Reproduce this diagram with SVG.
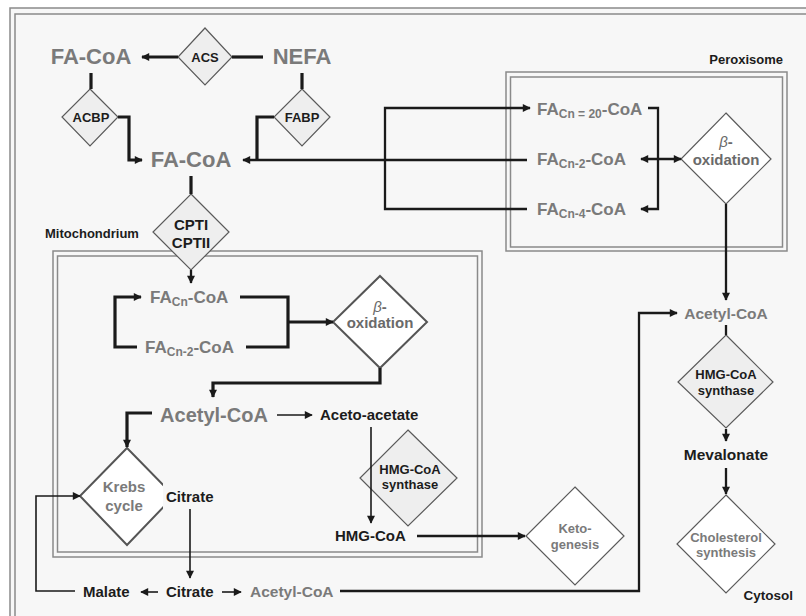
<svg xmlns="http://www.w3.org/2000/svg" width="806" height="616" viewBox="0 0 806 616">
<defs>
<style>
.t{font-family:"Liberation Sans",Arial,sans-serif;font-weight:bold;}
.gray{fill:#7a7a7a;}
.blk{fill:#1c1c1c;}
.big{font-size:22px;}
.fa{font-size:17px;}
.sub{font-size:12px;}
.mid{font-size:15px;}
.sm{font-size:13px;}
.c{text-anchor:middle;}
.enz{fill:#eeeeee;stroke:#5a5a5a;stroke-width:1.2;}
.proc{fill:#ffffff;stroke:#5a5a5a;stroke-width:1.2;}
.procb{fill:#ffffff;stroke:#555;stroke-width:2;}
.frame{fill:none;stroke:#8a8a8a;stroke-width:1.5;}
.k3{fill:none;stroke:#1a1a1a;stroke-width:3.2;}
.k2{fill:none;stroke:#1a1a1a;stroke-width:2.3;}
.k1{fill:none;stroke:#1a1a1a;stroke-width:1.6;}
</style>
<marker id="ah" viewBox="0 0 10 10" refX="9" refY="5" markerWidth="9" markerHeight="8" markerUnits="userSpaceOnUse" orient="auto-start-reverse">
<path d="M0,0 L10,5 L0,10 z" fill="#1a1a1a"/>
</marker>
</defs>
<rect x="0" y="0" width="806" height="616" fill="#ffffff"/>
<rect x="10" y="8" width="810" height="620" fill="#f7f7f7" stroke="#8a8a8a" stroke-width="1.5"/>
<rect x="15" y="14" width="800" height="610" class="frame"/>

<g id="mitochondrion-box">
<rect x="53" y="251" width="429" height="306" class="frame"/>
<rect x="57.5" y="256" width="420" height="296" class="frame"/>
<text class="t sm blk" x="45" y="238" fill="#333">Mitochondrium</text>
</g>
<g id="peroxisome-box">
<rect x="506" y="72" width="281" height="179" class="frame"/>
<rect x="510.5" y="77" width="272" height="170" class="frame"/>
<text class="t sm blk" x="783" y="64" text-anchor="end">Peroxisome</text>
</g>
<g id="cytosol-label"><text class="t sm blk" x="793" y="600" text-anchor="end" style="font-size:13.5px">Cytosol</text></g>

<g id="fa-coa-top"><text class="t big gray c" x="91" y="64">FA-CoA</text></g>
<g id="acs"><polygon class="enz" points="205,28 232,57 205,85 178,57"/><text class="t sm blk c" x="205" y="62">ACS</text></g>
<g id="nefa"><text class="t big gray c" x="302" y="64">NEFA</text></g>
<g id="acbp"><polygon class="enz" points="90,89 118,117 90,146 62,117"/><text class="t sm blk c" x="91" y="122">ACBP</text></g>
<g id="fabp"><polygon class="enz" points="302,89 330,117 302,146 274,117"/><text class="t sm blk c" x="302" y="122">FABP</text></g>
<g id="fa-coa-mid"><text class="t big gray c" x="191" y="167">FA-CoA</text></g>
<g id="cpt"><polygon class="enz" points="191,194 229,232 191,270 153,232"/><text class="t blk c" style="font-size:15px" x="191" y="230">CPTI</text><text class="t blk c" style="font-size:15px" x="191" y="248">CPTII</text></g>

<g id="px-fa20"><text class="t fa gray" x="537" y="115">FA<tspan class="sub" dy="3">Cn = 20</tspan><tspan dy="-3">-CoA</tspan></text></g>
<g id="px-fa2"><text class="t fa gray" x="537" y="165">FA<tspan class="sub" dy="3">Cn-2</tspan><tspan dy="-3">-CoA</tspan></text></g>
<g id="px-fa4"><text class="t fa gray" x="537" y="215">FA<tspan class="sub" dy="3">Cn-4</tspan><tspan dy="-3">-CoA</tspan></text></g>
<g id="px-box"><polygon class="proc" points="726,113 771,159 726,204 681,159"/><text class="t mid c" fill="#6a6a6a" x="726" y="147"><tspan font-style="italic" font-weight="normal">β</tspan>-</text><text class="t mid c" fill="#6a6a6a" x="726" y="165">oxidation</text></g>

<g id="mt-fan"><text class="t fa gray" x="150" y="303">FA<tspan class="sub" dy="3">Cn</tspan><tspan dy="-3">-CoA</tspan></text></g>
<g id="mt-fan2"><text class="t fa gray" x="145" y="353">FA<tspan class="sub" dy="3">Cn-2</tspan><tspan dy="-3">-CoA</tspan></text></g>
<g id="mt-box"><polygon class="procb" points="380,276 427,322 380,368 333,322"/><text class="t mid c" fill="#6a6a6a" x="380" y="312"><tspan font-style="italic" font-weight="normal">β</tspan>-</text><text class="t mid c" fill="#6a6a6a" x="380" y="328">oxidation</text></g>
<g id="mt-acetyl"><text class="t gray c" style="font-size:20px" x="214" y="422">Acetyl-CoA</text></g>
<g id="acetoacetate"><text class="t blk" style="font-size:15px" x="320" y="420">Aceto-acetate</text></g>
<g id="krebs"><polygon class="procb" points="127,448 174,496 127,545 80,496"/><rect x="163" y="481" width="56" height="35" fill="#f7f7f7"/><text class="t mid gray c" x="124" y="492">Krebs</text><text class="t mid gray c" x="124" y="511">cycle</text></g>
<g id="citrate-mt"><text class="t blk" style="font-size:15px" x="166" y="502">Citrate</text></g>
<g id="hmg-synth-mt"><polygon class="enz" points="408,430 457,478 408,526 360,478"/><text class="t sm blk c" x="410" y="474">HMG-CoA</text><text class="t sm blk c" x="410" y="489">synthase</text></g>
<g id="hmg-coa"><text class="t blk" style="font-size:15px" x="335" y="541">HMG-CoA</text></g>
<g id="ketogenesis"><polygon class="proc" points="575,487 624,536 575,585 526,536"/><text class="t sm gray c" x="575" y="533">Keto-</text><text class="t sm gray c" x="575" y="549">genesis</text></g>

<g id="malate"><text class="t blk" style="font-size:15px" x="83" y="597">Malate</text></g>
<g id="citrate-cyt"><text class="t blk" style="font-size:15px" x="166" y="597">Citrate</text></g>
<g id="acetyl-cyt"><text class="t gray" style="font-size:15.5px" x="250" y="597">Acetyl-CoA</text></g>

<g id="acetyl-right"><text class="t gray c" style="font-size:15.5px" x="726" y="319">Acetyl-CoA</text></g>
<g id="hmg-synth-cyt"><polygon class="enz" points="726,335 773,382 726,428 678,382"/><text class="t sm blk c" x="726" y="379">HMG-CoA</text><text class="t sm blk c" x="726" y="395">synthase</text></g>
<g id="mevalonate"><text class="t blk c" style="font-size:15.5px" x="726" y="460">Mevalonate</text></g>
<g id="cholesterol"><polygon class="proc" points="726,495 775,544 726,593 677,544"/><text class="t sm gray c" x="726" y="542">Cholesterol</text><text class="t sm gray c" x="726" y="557">synthesis</text></g>

<g id="connectors">
<path class="k3" d="M178,57 H142" marker-end="url(#ah)"/>
<path class="k3" d="M232,57 H263"/>
<path class="k3" d="M91,73 V89"/>
<path class="k3" d="M302,73 V89"/>
<path class="k3" d="M118,117 H129 V160 H142" marker-end="url(#ah)"/>
<path class="k3" d="M274,117 H257 V160"/>
<path class="k2" d="M527,160 H243" marker-end="url(#ah)"/>
<path class="k2" d="M385,160 V108 H530" marker-end="url(#ah)"/>
<path class="k2" d="M385,160 V209 H527"/>
<path class="k2" d="M648,108 H658 V209 H641" marker-end="url(#ah)"/>
<path class="k2" d="M641,159 H681" marker-start="url(#ah)" marker-end="url(#ah)"/>
<path class="k3" d="M191,176 V194"/>
<path class="k2" d="M191,270 V283" marker-end="url(#ah)"/>
<path class="k3" d="M137,347 H115 V297 H141" marker-end="url(#ah)"/>
<path class="k3" d="M240,297 H288 V347 H246"/>
<path class="k3" d="M288,322 H333" marker-end="url(#ah)"/>
<path class="k3" d="M380,368 V383 H213 V397" marker-end="url(#ah)"/>
<path class="k1" d="M277,415 H312" marker-end="url(#ah)"/>
<path class="k3" d="M152,413 H127 V447" marker-end="url(#ah)"/>
<path class="k1" d="M371,427 V523" marker-end="url(#ah)"/>
<path class="k2" d="M417,536 H525" marker-end="url(#ah)"/>
<path class="k1" d="M190,509 V578" marker-end="url(#ah)"/>
<path class="k1" d="M158,592 H141" marker-end="url(#ah)"/>
<path class="k1" d="M222,592 H241" marker-end="url(#ah)"/>
<path class="k1" d="M75,591 H36 V496 H80" marker-end="url(#ah)"/>
<path class="k2" d="M340,591 H639 V313 H677" marker-end="url(#ah)"/>
<path class="k2" d="M726,204 V300" marker-end="url(#ah)"/>
<path class="k2" d="M726,325 V335"/>
<path class="k2" d="M726,429 V441" marker-end="url(#ah)"/>
<path class="k2" d="M726,468 V494" marker-end="url(#ah)"/>
</g>
</svg>
